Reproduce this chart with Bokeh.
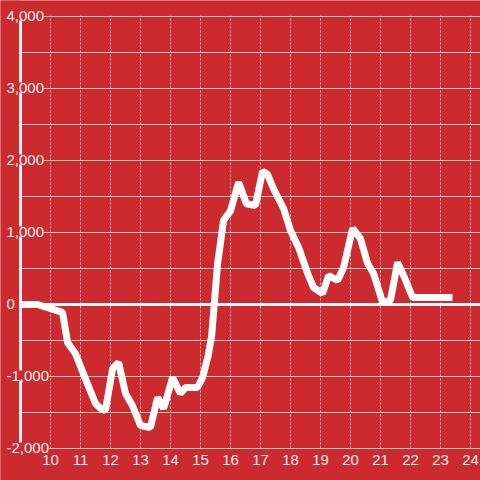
from bokeh.plotting import figure
from bokeh.models import (FixedTicker, Span, Range1d, LinearAxis, BoxAnnotation,
                          LabelSet, ColumnDataSource)
from bokeh.embed import file_html
from bokeh.resources import INLINE
from bokeh.core.properties import value

# ---- data ----
hours = [9.0, 9.57, 10.4, 10.57, 10.83, 11.23, 11.5, 11.67, 11.83, 12.07, 12.27,
         12.5, 12.73, 13.0, 13.33, 13.57, 13.77, 14.07, 14.33, 14.5, 14.9, 15.07,
         15.25, 15.37, 15.57, 15.77, 16.0, 16.27, 16.53, 16.83, 17.07, 17.23,
         17.43, 17.77, 18.0, 18.27, 18.57, 18.77, 19.07, 19.27, 19.57, 19.77,
         20.07, 20.33, 20.57, 20.77, 21.07, 21.33, 21.57, 21.77, 22.07, 23.4]
values = [0, 0, -110, -530, -680, -1100, -1375, -1444, -1472, -890, -806,
          -1236, -1403, -1680, -1708, -1292, -1444, -1014, -1236, -1153, -1153, -1014,
          -720, -440, 570, 1170, 1300, 1700, 1400, 1375, 1850, 1810,
          1611, 1333, 1028, 792, 431, 236, 153, 403, 333, 514,
          1056, 917, 569, 431, 28, 56, 583, 403, 97, 97]

x_ticks = list(range(10, 25))
y_ticks = [-2000, -1000, 0, 1000, 2000, 3000, 4000]
y_tick_labels = ["-2,000", "-1,000", "0", "1,000", "2,000", "3,000", "4,000"]
y_grid = [-2000, -1500, -1000, -500, 0, 500, 1000, 1500, 2000, 2500, 3000, 3500, 4000]

X_MIN, X_MAX = 9.0, 24.0
Y_MIN, Y_MAX = -2000, 4000

RED = "#cc2a2f"
FONT = "Liberation Sans"
TXT = "#eeeeee"

# frame covers the whole canvas; 30 px per hour, 72 px per 1,000
x_range = Range1d(10 - 50 / 30.0, 10 + 430 / 30.0)
y_range = Range1d(4000 - 464 / 72.0 * 1000, 4000 + 16 / 72.0 * 1000)

p = figure(width=480, height=480, output_backend="svg", toolbar_location=None,
           x_range=x_range, y_range=y_range, min_border=0,
           x_axis_location=None, y_axis_location=None)
p.background_fill_color = RED
p.border_fill_color = RED
p.outline_line_color = None

# grids
p.xgrid.ticker = FixedTicker(ticks=x_ticks)
p.xgrid.grid_line_color = "#dddddd"
p.xgrid.grid_line_dash = "2 2"
p.xgrid.grid_line_width = 1
p.ygrid.ticker = FixedTicker(ticks=y_grid)
p.ygrid.grid_line_color = "#c8c8c8"
p.ygrid.grid_line_width = 1

# zero line
p.add_layout(Span(location=0, dimension="width", line_color="#ffffff",
                  line_width=3, level="underlay"))

# mask the grid outside the plotting area
for kw in (dict(right=X_MIN - 0.03), dict(bottom=Y_MAX + 10), dict(top=Y_MIN - 10)):
    p.add_layout(BoxAnnotation(fill_color=RED, fill_alpha=1, line_color=None,
                               level="underlay", **kw))

# data line
p.line(hours, values, line_color="#ffffff", line_width=7)

# x axis along the bottom of the plotting area
xax = LinearAxis(ticker=FixedTicker(ticks=x_ticks), fixed_location=Y_MIN,
                 axis_line_color=None, major_tick_line_color=None,
                 minor_tick_line_color=None, major_label_standoff=0,
                 major_label_text_color=TXT, major_label_text_font=FONT,
                 major_label_text_font_size="15px")
p.add_layout(xax, "below")

# y axis line at the left edge of the plotting area
yax = LinearAxis(ticker=FixedTicker(ticks=[]), fixed_location=X_MIN,
                 bounds=(Y_MIN, Y_MAX),
                 axis_line_color="#f2f2f2", axis_line_width=3,
                 major_tick_line_color=None, minor_tick_line_color=None,
                 major_label_text_font_size="0px")
p.add_layout(yax, "left")

# y tick labels, left aligned, with a red background over the axis line
src = ColumnDataSource(dict(x=[X_MIN] * len(y_ticks), y=y_ticks, t=y_tick_labels))
p.add_layout(LabelSet(x="x", y="y", text="t", source=src, x_offset=-14, y_offset=1,
                      text_align="left", text_baseline="middle",
                      text_color=TXT, text_font=value(FONT), text_font_size="15px",
                      background_fill_color=RED, level="overlay"))

open("out.html", "w").write(file_html(p, INLINE))
